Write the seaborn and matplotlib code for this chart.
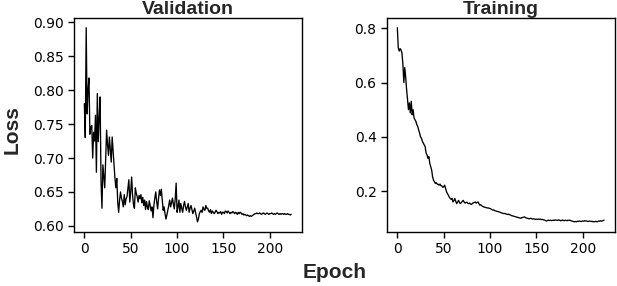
import numpy as np
import pandas as pd
import matplotlib
matplotlib.use("Agg")
import matplotlib.pyplot as plt
import seaborn as sns

# ---- data ----
val_loss = [
    0.780, 0.730, 0.892, 0.765, 0.800, 0.818, 0.735, 0.745, 0.748, 0.700,
    0.738, 0.725, 0.763, 0.679, 0.795, 0.724, 0.760, 0.790, 0.665, 0.626,
    0.690, 0.672, 0.656, 0.700, 0.741, 0.720, 0.704, 0.731, 0.712, 0.694,
    0.731, 0.710, 0.690, 0.670, 0.656, 0.670, 0.635, 0.620, 0.638, 0.650,
    0.641, 0.636, 0.628, 0.646, 0.631, 0.640, 0.643, 0.655, 0.668, 0.635,
    0.650, 0.672, 0.645, 0.631, 0.626, 0.656, 0.648, 0.643, 0.635, 0.645,
    0.640, 0.646, 0.634, 0.642, 0.630, 0.638, 0.624, 0.636, 0.628, 0.624,
    0.637, 0.630, 0.622, 0.628, 0.612, 0.630, 0.641, 0.650, 0.636, 0.625,
    0.640, 0.653, 0.645, 0.654, 0.638, 0.623, 0.628, 0.618, 0.610, 0.616,
    0.623, 0.630, 0.638, 0.628, 0.634, 0.641, 0.632, 0.625, 0.640, 0.663,
    0.620, 0.628, 0.638, 0.620, 0.633, 0.626, 0.620, 0.630, 0.636, 0.628,
    0.623, 0.628, 0.633, 0.620, 0.626, 0.630, 0.624, 0.618, 0.622, 0.626,
    0.619, 0.613, 0.606, 0.610, 0.618, 0.621, 0.623, 0.620, 0.628, 0.624,
    0.623, 0.630, 0.626, 0.626, 0.622, 0.620, 0.624, 0.618, 0.622, 0.620,
    0.618, 0.620, 0.623, 0.621, 0.618, 0.620, 0.619, 0.621, 0.617, 0.620,
    0.620, 0.618, 0.622, 0.621, 0.619, 0.622, 0.620, 0.618, 0.620, 0.619,
    0.621, 0.620, 0.618, 0.620, 0.619, 0.617, 0.620, 0.618, 0.620, 0.619,
    0.617, 0.618, 0.616, 0.617, 0.616, 0.615, 0.616, 0.615, 0.614, 0.615,
    0.614, 0.615, 0.616, 0.617, 0.618, 0.618, 0.619, 0.618, 0.618, 0.619,
    0.618, 0.617, 0.618, 0.619, 0.618, 0.617, 0.618, 0.619, 0.618, 0.617,
    0.618, 0.618, 0.619, 0.618, 0.617, 0.618, 0.617, 0.618, 0.619, 0.618,
    0.617, 0.618, 0.617, 0.618, 0.618, 0.617, 0.618, 0.617, 0.617, 0.618,
    0.617, 0.617, 0.616, 0.617,
]

train_loss = [
    0.802, 0.728, 0.716, 0.725, 0.720, 0.708, 0.667, 0.600, 0.655, 0.620,
    0.574, 0.537, 0.500, 0.525, 0.488, 0.531, 0.481, 0.500, 0.470, 0.463,
    0.457, 0.445, 0.438, 0.425, 0.414, 0.400, 0.395, 0.383, 0.377, 0.370,
    0.364, 0.340, 0.333, 0.321, 0.327, 0.302, 0.290, 0.278, 0.253, 0.240,
    0.235, 0.228, 0.231, 0.226, 0.225, 0.222, 0.226, 0.220, 0.219, 0.214,
    0.216, 0.222, 0.210, 0.198, 0.191, 0.185, 0.178, 0.173, 0.170, 0.173,
    0.160, 0.165, 0.173, 0.162, 0.154, 0.160, 0.166, 0.158, 0.154, 0.158,
    0.162, 0.166, 0.160, 0.156, 0.158, 0.159, 0.155, 0.154, 0.156, 0.152,
    0.151, 0.155, 0.157, 0.158, 0.160, 0.156, 0.158, 0.160, 0.154, 0.148,
    0.150, 0.146, 0.144, 0.142, 0.141, 0.140, 0.139, 0.138, 0.138, 0.137,
    0.136, 0.134, 0.132, 0.130, 0.131, 0.128, 0.127, 0.126, 0.125, 0.124,
    0.123, 0.122, 0.120, 0.119, 0.118, 0.117, 0.118, 0.116, 0.115, 0.114,
    0.115, 0.113, 0.112, 0.110, 0.109, 0.108, 0.107, 0.106, 0.105, 0.104,
    0.103, 0.102, 0.101, 0.100, 0.102, 0.103, 0.104, 0.105, 0.103, 0.101,
    0.100, 0.099, 0.098, 0.099, 0.100, 0.098, 0.097, 0.098, 0.097, 0.096,
    0.097, 0.096, 0.097, 0.096, 0.097, 0.095, 0.096, 0.095, 0.094, 0.093,
    0.091, 0.090, 0.092, 0.093, 0.092, 0.093, 0.091, 0.092, 0.093, 0.092,
    0.094, 0.093, 0.093, 0.092, 0.094, 0.093, 0.091, 0.092, 0.093, 0.092,
    0.091, 0.093, 0.092, 0.091, 0.093, 0.092, 0.093, 0.091, 0.090, 0.089,
    0.088, 0.087, 0.088, 0.087, 0.089, 0.088, 0.090, 0.089, 0.088, 0.089,
    0.090, 0.089, 0.091, 0.090, 0.090, 0.089, 0.088, 0.090, 0.089, 0.088,
    0.089, 0.087, 0.088, 0.087, 0.089, 0.087, 0.088, 0.090, 0.089, 0.091,
    0.089, 0.090, 0.092, 0.093,
]

epochs = list(range(len(val_loss)))
panel_titles = ["Validation", "Training"]

df = pd.DataFrame({"epoch": epochs, "Validation": val_loss, "Training": train_loss})

# ---- style ----
sns.set_style("ticks")
plt.rcParams["font.family"] = ["DejaVu Sans"]
plt.rcParams["axes.linewidth"] = 1.0
plt.rcParams["xtick.major.size"] = 4
plt.rcParams["ytick.major.size"] = 4
plt.rcParams["xtick.major.width"] = 1.0
plt.rcParams["ytick.major.width"] = 1.0

fig = plt.figure(figsize=(6.17, 2.86), dpi=100)
ax_val = fig.add_axes([74 / 617, 54.5 / 286, 227.5 / 617, 213.5 / 286])
ax_tr = fig.add_axes([387 / 617, 54.5 / 286, 227.5 / 617, 213.5 / 286])

for ax, name in zip([ax_val, ax_tr], panel_titles):
    sns.lineplot(data=df, x="epoch", y=name, ax=ax, color="black", linewidth=0.95)
    ax.set_title(name, fontsize=14, fontweight="bold", family="Liberation Sans", pad=0.5)
    ax.set_xlabel("")
    ax.set_ylabel("")
    ax.set_xticks([0, 50, 100, 150, 200])
    ax.tick_params(labelsize=10, colors="black")
    for s in ax.spines.values():
        s.set_color("black")

ax_val.set_yticks([0.60, 0.65, 0.70, 0.75, 0.80, 0.85, 0.90])
ax_val.set_yticklabels([f"{v:.2f}" for v in ax_val.get_yticks()])
ax_tr.set_yticks([0.2, 0.4, 0.6, 0.8])

fig.text(12 / 617, 1 - 130 / 286, "Loss", rotation=90, ha="center", va="center",
         fontsize=15, fontweight="bold", family="Liberation Sans")
fig.text(335 / 617, 1 - 272 / 286, "Epoch", ha="center", va="center",
         fontsize=15, fontweight="bold", family="Liberation Sans")

fig.savefig("out.png", dpi=100)
